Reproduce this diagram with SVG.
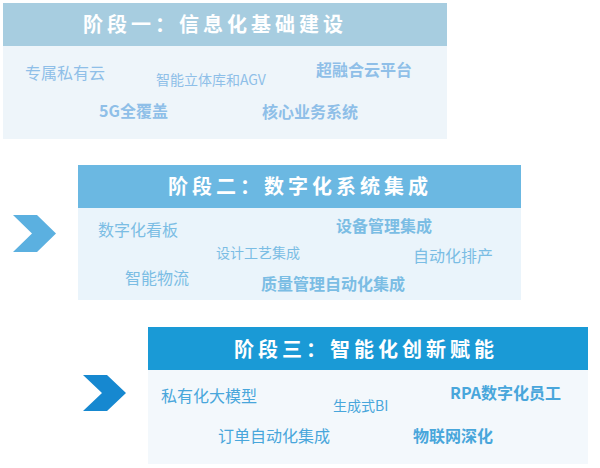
<svg xmlns="http://www.w3.org/2000/svg" width="600" height="468" viewBox="0 0 600 468">
<style>
text{font-family:"Noto Sans CJK SC","Noto Sans",sans-serif}
.h{fill:#fff;font-size:20px;font-weight:bold;letter-spacing:4px;text-anchor:middle}
.t{font-size:16px}
.s{font-size:14px}
.b{font-weight:bold}
.c1{fill:#8fbfe8}.c2{fill:#7bbde4}.c3{fill:#48a6db}
</style>
<rect width="600" height="468" fill="#fff"/>
<g id="stage1">
<rect x="3" y="3" width="444" height="136" fill="#eef5fa"/>
<rect x="3" y="3" width="444" height="43" fill="#a7cde0"/>
<text class="h" x="215" y="32">阶段一：信息化基础建设</text>
<g class="c1">
<text class="t" x="25" y="79">专属私有云</text>
<text class="s" x="156" y="85">智能立体库和AGV</text>
<text class="t b" x="316" y="76">超融合云平台</text>
<text class="t b" x="99" y="117">5G全覆盖</text>
<text class="t b" x="262" y="118">核心业务系统</text>
</g>
</g>
<g id="stage2">
<rect x="78" y="165" width="443" height="135" fill="#eaf4fb"/>
<rect x="78" y="165" width="443" height="43" fill="#6bb8e2"/>
<text class="h" x="300" y="194">阶段二：数字化系统集成</text>
<g class="c2">
<text class="t" x="98" y="236">数字化看板</text>
<text class="t b" x="336" y="232">设备管理集成</text>
<text class="s" x="216" y="258">设计工艺集成</text>
<text class="t" x="413" y="262">自动化排产</text>
<text class="t" x="125" y="284">智能物流</text>
<text class="t b" x="261" y="290">质量管理自动化集成</text>
</g>
</g>
<g id="stage3">
<rect x="148" y="327" width="440" height="137" fill="#f3f8fc"/>
<rect x="148" y="327" width="440" height="43" fill="#1a9ad6"/>
<text class="h" x="366" y="357">阶段三：智能化创新赋能</text>
<g class="c3">
<text class="t" x="161" y="402">私有化大模型</text>
<text class="s" x="333" y="411">生成式BI</text>
<text class="t b" x="450" y="399">RPA数字化员工</text>
<text class="t" x="218" y="442">订单自动化集成</text>
<text class="t b" x="413" y="442">物联网深化</text>
</g>
</g>
<g id="connectors">
<polygon points="13,215 37,215 56,233.5 37,252 13,252 32,233.5" fill="#5bb0e0"/>
<polygon points="83,375 107,375 126,393 107,411 83,411 102,393" fill="#1688d0"/>
</g>
</svg>
